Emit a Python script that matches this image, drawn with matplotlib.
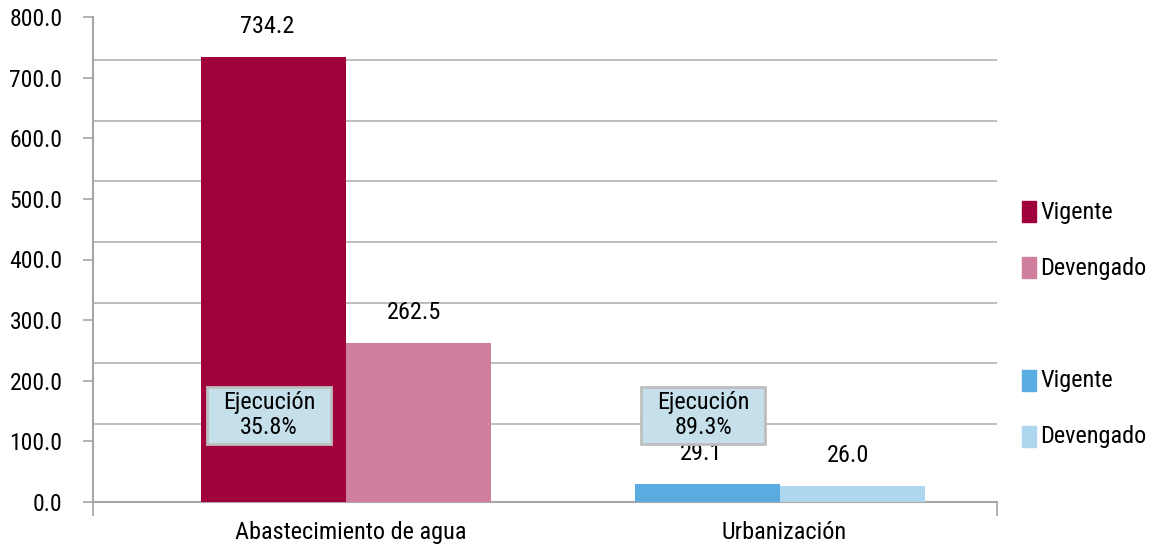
import matplotlib
matplotlib.use("Agg")
import matplotlib.pyplot as plt
from matplotlib.patches import Rectangle
from matplotlib import font_manager

names = {f.name for f in font_manager.fontManager.ttflist}
fam = [f for f in ["Liberation Sans Narrow", "Roboto Condensed", "DejaVu Sans Condensed"] if f in names]
fam = fam + ["DejaVu Sans"]
plt.rcParams["font.family"] = fam

categories = ["Abastecimiento de agua", "Urbanización"]
vigente = [734.2, 29.1]
devengado = [262.5, 26.0]
ejecucion = ["35.8%", "89.3%"]
series_names = ["Vigente", "Devengado"]
yticks = [0, 100, 200, 300, 400, 500, 600, 700, 800]

col_vig = ["#A0003C", "#5AABE0"]
col_dev = ["#CF7F9D", "#AED6EF"]

FS = 17.5
W, H = 1150, 544
fig = plt.figure(figsize=(W / 100, H / 100), dpi=100)
ax = fig.add_axes([93 / W, 1 - 502 / H, (997 - 93) / W, (502 - 17) / H])

bw = 0.334
xs = [0, 1]
for i, x in enumerate(xs):
    ax.bar(x - bw / 2, vigente[i], bw, color=col_vig[i], zorder=3)
    ax.bar(x + bw / 2, devengado[i], bw, color=col_dev[i], zorder=3)
    ax.annotate(f"{vigente[i]:.1f}", (x - bw / 2 - 0.015, vigente[i]), xytext=(0, 22),
                textcoords="offset points", ha="center", va="center", fontsize=FS)
    ax.annotate(f"{devengado[i]:.1f}", (x + bw / 2 - 0.01, devengado[i]), xytext=(0, 22),
                textcoords="offset points", ha="center", va="center", fontsize=FS)
    bx0, bx1, by0, by1 = x - 0.320, x - 0.034, 96, 190
    ax.add_patch(Rectangle((bx0, by0), bx1 - bx0, by1 - by0, facecolor="#C5E0EA",
                           edgecolor="#BFBFBF", lw=2, zorder=5))
    ax.text((bx0 + bx1) / 2, (by0 + by1) / 2, f"Ejecución\n{ejecucion[i]}", ha="center",
            va="center", fontsize=FS, zorder=6, linespacing=1.1)

ax.set_xlim(-0.583, 1.5)
ax.set_ylim(0, 800)

# horizontal gridlines (offset as in the original rendering)
for k in range(1, 8):
    ax.axhline(100 * k + 28.7, color="#B3B3B3", lw=1.2, zorder=1)

ax.set_yticks(yticks)
ax.set_yticklabels([f"{v:.1f}" for v in yticks], fontsize=17)
ax.tick_params(axis="y", length=7, width=1.2, color="#A6A6A6", pad=15)
ax.set_xticks([-0.583, 1.5])
ax.set_xticklabels([])
ax.tick_params(axis="x", length=10, width=1.2, color="#A6A6A6")
for x, c in zip(xs, categories):
    ax.text(x + 0.01, -50, c, ha="center", va="center", fontsize=FS, clip_on=False)

for s in ["top", "right"]:
    ax.spines[s].set_visible(False)
for s in ["left", "bottom"]:
    ax.spines[s].set_color("#A6A6A6")
    ax.spines[s].set_linewidth(1.5)

# legend
leg_y = [213, 268, 381, 437]
leg_cols = [col_vig[0], col_dev[0], col_vig[1], col_dev[1]]
leg_txt = series_names + series_names
for y, c, t in zip(leg_y, leg_cols, leg_txt):
    fig.patches.append(Rectangle((1022 / W, 1 - (y + 9.5) / H), 14 / W, 21 / H,
                                 transform=fig.transFigure, color=c))
    fig.text(1040 / W, 1 - y / H, t, ha="left", va="center", fontsize=FS)

fig.savefig("out.png", dpi=100)
